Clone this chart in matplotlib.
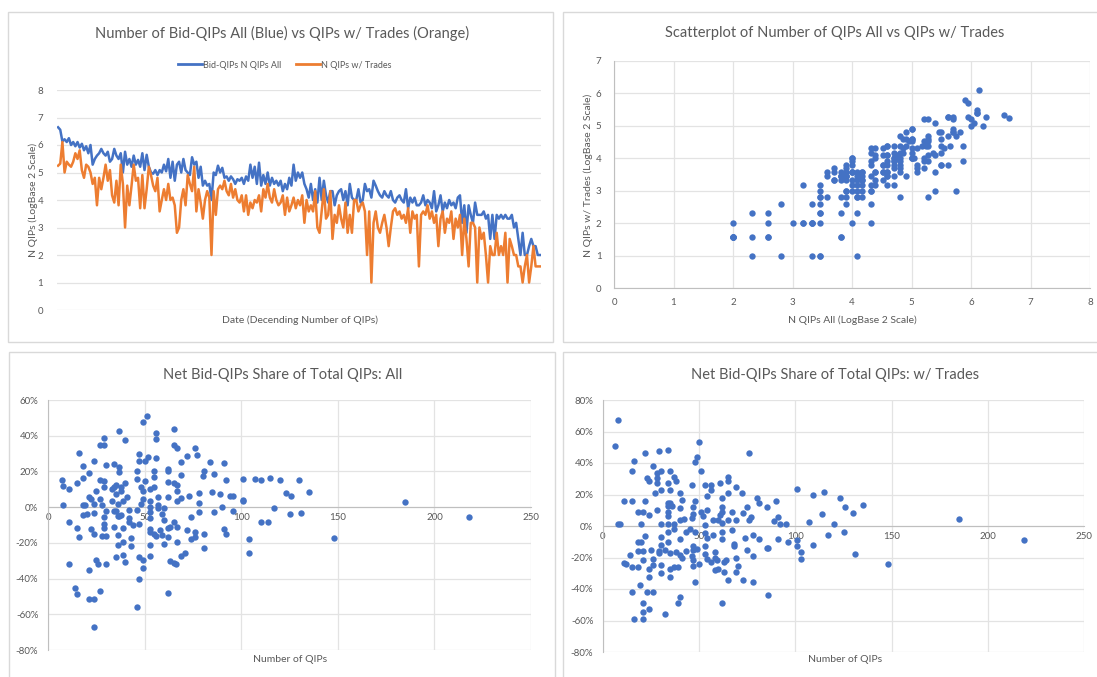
import matplotlib.pyplot as plt
import numpy as np
from matplotlib.lines import Line2D
from matplotlib.patches import Rectangle
from matplotlib.ticker import FuncFormatter

plt.rcParams["font.family"] = ["Lato", "DejaVu Sans"]

AZUL = "#4472C4"
NARANJA = "#ED7D31"
GRIS_TEXTO = "#595959"
GRIS_REJILLA = "#e3e3e3"
GRIS_EJE = "#bfbfbf"

# Número de Bid-QIPs por fecha (fechas ordenadas de mayor a menor número de QIPs)
n_qips_todos = [
    100, 94, 70, 74, 69, 76, 64, 69, 62, 69, 60, 66, 56, 62, 52, 64,
    39, 45, 49, 52, 58, 52, 49, 54, 42, 45, 58, 49, 45, 52, 32, 54, 39, 45, 37, 49, 39, 44, 37, 52, 34, 50, 37,
    32, 31, 34, 30, 34, 32, 39, 33, 45, 28, 42, 26, 39, 42, 32, 45, 34, 32, 30, 47, 39, 42, 28, 37, 23,
    26, 23, 24, 16, 32, 30, 38, 32, 36, 28, 29, 26, 29, 27, 24, 27, 26, 28, 24, 29, 26, 39, 28, 37, 24,
    41, 23, 30, 24, 32, 23, 28, 24, 26, 23, 26, 20, 24, 21, 28, 23, 39, 26, 32, 28, 32, 24, 21, 17, 24, 16,
    21, 15, 28, 16, 26, 18, 15, 20, 20, 14, 18, 20, 21, 16, 20, 14, 24, 17, 16, 16, 21, 15, 16, 24,
    20, 21, 17, 26, 23, 20, 18, 17, 20, 18, 17, 20, 16, 15, 17, 18, 16, 15, 21, 13, 17, 15, 17, 14,
    14, 15, 18, 14, 16, 15, 13, 20, 12, 14, 18, 12, 15, 13, 16, 14, 15, 13, 17, 18, 9, 14, 7, 14,
    11, 9, 15, 11, 11, 11, 12, 10, 11, 6, 11, 6, 11, 10, 11, 10, 11, 10, 10, 11,
    8, 9, 6, 4, 7, 4, 4, 5, 6, 5, 5, 4, 4,
]
n_qips_trades = [
    38, 40, 69, 32, 42, 39, 37, 42, 52, 45, 56, 34, 28, 39, 37, 32,
    24, 28, 14, 28, 21, 28, 39, 26, 34, 18, 15, 26, 14, 39, 24, 8, 23, 14, 23, 39, 26, 28, 13, 30, 13, 21, 37,
    30, 23, 20, 28, 12, 16, 21, 16, 24, 16, 17, 14, 7, 8, 16, 21, 14, 30, 24, 20, 37, 12, 21, 15, 10,
    16, 20, 17, 4, 20, 11, 21, 23, 21, 26, 20, 18, 24, 17, 21, 16, 15, 18, 12, 18, 11, 15, 13, 16, 15,
    18, 12, 21, 17, 24, 17, 15, 21, 16, 14, 15, 18, 11, 17, 12, 14, 17, 13, 16, 14, 18, 9, 16, 12, 14, 12,
    20, 8, 7, 12, 21, 10, 11, 20, 6, 11, 9, 14, 10, 8, 15, 7, 11, 7, 16, 16, 12, 14, 15, 12,
    4, 12, 2, 9, 12, 8, 7, 9, 11, 8, 5, 8, 12, 13, 11, 12, 10, 11, 9, 13, 7, 12, 10, 11,
    3, 11, 12, 11, 14, 10, 12, 9, 11, 5, 10, 12, 7, 10, 9, 12, 6, 10, 8, 11, 4, 10, 6, 3,
    9, 9, 8, 2, 8, 6, 7, 4, 2, 5, 4, 4, 7, 4, 5, 4, 7, 2, 6, 5,
    4, 4, 3, 3, 2, 3, 4, 2, 3, 5, 3, 3, 3,
]

# Participación neta de Bid-QIPs (%) frente al número total de QIPs: todas
num_qips_todos = [
    7, 8, 11, 8, 11, 11, 15, 16, 18, 18,
    15, 16, 14, 15, 18, 19, 18, 21, 21, 22,
    20, 22, 21, 21, 24, 24, 24, 24, 25, 24,
    24, 25, 26, 27, 27, 27, 27, 28, 29, 29,
    29, 29, 29, 29, 29, 30, 28, 30, 30, 30,
    33, 33, 34, 34, 34, 34, 35, 35, 35, 35,
    36, 36, 36, 36, 37, 37, 37, 38, 38, 37,
    38, 39, 39, 39, 39, 40, 40, 40, 41, 42,
    42, 42, 43, 43, 44, 46, 46, 46, 46, 47,
    47, 47, 47, 47, 48, 48, 49, 49, 49, 49,
    49, 50, 50, 51, 52, 53, 53, 53, 53, 53,
    53, 53, 53, 53, 55, 55, 55, 55, 56, 56,
    56, 56, 57, 57, 57, 58, 59, 59, 60, 60,
    60, 62, 62, 62, 62, 62, 62, 62, 63, 63,
    65, 65, 65, 65, 65, 66, 67, 67, 67, 67,
    67, 67, 69, 69, 69, 69, 71, 72, 72, 73,
    74, 74, 76, 76, 76, 77, 78, 78, 78, 80,
    81, 81, 81, 84, 85, 86, 86, 89, 90, 91,
    91, 92, 92, 94, 96, 96, 101, 101, 101, 104,
    104, 107, 110, 110, 114, 115, 117, 120, 123, 125,
    126, 130, 131, 135, 148, 185, 218,
]
share_neto_todos = [
    15.2, 11.9, 10.0, 1.1, -8.2, -32.0, 13.4, 30.5, 23.0, 16.4,
    -11.5, -16.7, -45.4, -48.7, 1.1, 1.1, -4.5, 5.6, 19.3, 4.8,
    -4.1, -12.3, -35.3, -51.3, 26.0, 1.5, -3.3, -15.2, 8.9, -51.3,
    -66.9, -29.4, -32.0, 4.5, 34.6, 15.2, -47.2, 1.1, 38.7, 11.2,
    34.6, 14.9, -9.7, -5.6, -11.9, -16.0, -16.0, -31.6, 23.8, -1.9,
    3.7, 10.0, 24.2, 11.2, -1.9, -11.2, 7.1, -1.9, -27.9, 12.6,
    -4.8, -15.6, -21.2, 1.5, 19.7, 22.3, 42.8, 11.2, -4.5, -4.8,
    8.9, 3.7, -11.5, -26.8, -19.3, 37.6, 13.4, -30.5, 5.9, -8.2,
    -1.5, -5.9, -21.9, -17.5, -10.0, -55.8, 20.4, 16.0, -1.5, -9.3,
    29.7, 26.0, -27.9, -40.5, 1.5, 11.2, 47.6, -29.7, -33.8, 8.9,
    4.8, 14.5, 26.0, 50.9, 27.9, 10.0, 3.7, 0.0, -2.6, -6.3,
    -12.3, -27.5, -21.2, -13.8, 20.4, 17.1, -14.9, 11.5, -16.4, 27.5,
    37.9, 41.3, 5.9, -0.7, 1.1, -13.0, -15.6, -4.1, -0.7, -7.1,
    -20.4, 14.1, -11.5, -16.7, 20.4, 5.6, 21.6, -48.0, -11.2, -30.1,
    -31.2, 43.5, 34.6, 13.4, -8.2, -32.0, 33.1, 12.6, 9.3, 3.7,
    -11.2, -19.3, 25.3, 5.2, 17.8, -27.5, -25.7, 28.6, -13.0, 6.3,
    -17.8, -5.6, -16.7, -13.8, 33.1, 29.4, 7.8, 2.2, -2.6, 17.5,
    20.4, -14.9, -23.0, 25.3, 8.2, 18.6, -2.6, 7.4, 0.0, 24.9,
    -12.3, 15.2, -15.2, 6.3, 6.3, -1.9, 16.0, 4.1, 3.3, -17.8,
    -25.7, 16.0, 15.2, -8.2, -8.2, 16.4, -0.7, 15.2, 7.8, -3.7,
    6.3, 15.2, -3.3, 8.6, -17.1, 3.0, -5.6,
]

# Participación neta de Bid-QIPs (%) frente al número total de QIPs: con trades
num_qips_trades = [
    6, 8, 8, 9, 11, 11, 12, 14, 15, 15,
    15, 15, 16, 16, 18, 18, 18, 18, 19, 20,
    20, 21, 21, 21, 21, 21, 21, 22, 22, 22,
    23, 23, 24, 24, 24, 24, 24, 25, 26, 26,
    26, 26, 27, 28, 28, 28, 28, 29, 29, 29,
    30, 30, 30, 30, 30, 30, 30, 32, 32, 34,
    34, 34, 34, 34, 34, 34, 34, 34, 35, 35,
    35, 35, 35, 35, 36, 37, 37, 37, 37, 38,
    38, 39, 39, 40, 40, 40, 40, 40, 40, 41,
    41, 42, 43, 43, 45, 46, 46, 46, 47, 47,
    47, 47, 47, 47, 48, 48, 48, 48, 49, 49,
    50, 50, 51, 51, 52, 53, 53, 53, 53, 53,
    54, 54, 54, 54, 56, 56, 56, 57, 57, 58,
    58, 58, 59, 60, 60, 61, 61, 62, 62, 62,
    62, 62, 62, 62, 63, 63, 64, 65, 65, 65,
    65, 65, 67, 67, 68, 68, 69, 69, 69, 69,
    70, 72, 73, 73, 74, 75, 75, 76, 76, 77,
    78, 78, 78, 80, 81, 81, 85, 85, 86, 86,
    89, 90, 91, 91, 92, 95, 96, 101, 101, 101,
    103, 103, 107, 109, 109, 114, 115, 117, 120, 123,
    125, 126, 130, 131, 135, 148, 185, 219,
]
share_neto_trades = [
    50.9, 67.5, 1.2, 1.2, 15.6, -23.5, -23.9, -18.4, 34.7, 15.6,
    -26.0, -42.2, 41.1, -58.8, 9.2, -9.9, -15.8, -26.0, -37.5, 1.2,
    -9.9, 8.8, -15.8, -21.8, -48.6, -54.5, -58.8, 46.6, 15.6, -6.5,
    -42.2, 30.5, 28.4, 7.1, -32.4, -27.3, -52.8, -15.0, -20.9, 38.1,
    -24.8, -42.2, 20.7, 10.1, 33.9, 27.5, 30.5, -15.8, -17.1, 47.5,
    34.7, 1.2, 22.8, -6.9, -24.8, -29.9, -12.0, -55.8, -15.0, 48.3,
    27.5, 14.8, 12.6, 9.2, 6.3, 1.2, -3.5, -9.9, 14.8, 34.7,
    22.8, -17.1, -27.3, -32.4, 12.6, 31.3, 1.2, -1.8, -26.0, 28.8,
    -16.3, -48.6, -26.0, -44.8, -18.4, 20.7, 11.4, 4.1, -8.2, 16.5,
    -20.5, 4.6, -3.5, -15.8, -2.2, -18.8, 26.2, 5.0, -15.4, 12.2,
    7.5, -12.4, -21.3, -25.2, 15.6, 40.7, -35.4, -3.5, 44.1, -14.5,
    53.5, -23.9, 34.7, 9.2, 6.3, -4.3, -12.4, 25.8, 0.7, -17.5,
    -20.9, 19.0, 10.1, -7.8, -22.6, 25.8, 22.8, -6.0, 4.1, -28.2,
    -20.5, -16.3, -21.8, 4.1, -27.3, 7.1, 27.5, 17.7, 12.2, 9.2,
    1.6, -3.5, -8.2, -48.6, -22.6, -29.0, -21.3, 4.1, 30.9, 28.4,
    20.7, -34.1, 8.8, -2.7, -11.6, -12.9, 24.5, -29.0, 4.1, -20.1,
    -25.6, 20.7, 8.4, -34.1, -7.8, -15.0, 11.8, 4.1, 46.2, 5.8,
    -5.6, -18.8, -35.4, 17.7, 14.3, -8.2, 11.8, -14.1, -14.1, -43.5,
    3.3, 15.6, -8.2, 5.4, 1.2, 1.2, -9.9, 23.7, -8.6, -12.9,
    -16.3, -20.9, 2.4, 19.9, -12.0, 7.5, 21.6, -6.0, 1.2, 17.7,
    -3.5, 11.8, 8.4, -17.9, 13.5, -23.9, 4.6, -8.6,
]

ANCHO, ALTO = 1097, 677
fig = plt.figure(figsize=(ANCHO / 100, ALTO / 100), dpi=100)


def caja(x0, y0, x1, y1):
    # Rectángulo en píxeles (origen arriba a la izquierda) -> fracción de figura
    return [x0 / ANCHO, 1 - y1 / ALTO, (x1 - x0) / ANCHO, (y1 - y0) / ALTO]


def texto(x, y, s, **kw):
    fig.text(x / ANCHO, 1 - y / ALTO, s, ha="center", va="center", color=GRIS_TEXTO, **kw)


def estilo_ejes(ax):
    ax.set_axisbelow(True)
    ax.tick_params(length=0, labelsize=7, colors=GRIS_TEXTO, pad=7)
    for lado in ["top", "right"]:
        ax.spines[lado].set_visible(False)


# Marcos de los cuatro gráficos
for x0, y0, x1, y1 in [(8, 12, 553, 342), (563, 12, 1100, 342),
                       (9, 352, 555, 680), (563, 352, 1100, 680)]:
    fig.patches.append(Rectangle((x0 / ANCHO, 1 - y1 / ALTO), (x1 - x0) / ANCHO, (y1 - y0) / ALTO,
                                 transform=fig.transFigure, fill=False,
                                 edgecolor="#d9d9d9", lw=1))

# Serie temporal de QIPs en escala log2
ax1 = fig.add_axes(caja(57, 90, 541, 310))
fechas = np.arange(len(n_qips_todos))
ax1.plot(fechas, np.log2(n_qips_todos), color=AZUL, lw=1.8)
ax1.plot(fechas, np.log2(n_qips_trades), color=NARANJA, lw=1.8)
ax1.set_xlim(-0.5, len(fechas) - 0.5)
ax1.set_ylim(0, 8)
ax1.set_yticks(range(0, 9))
ax1.set_xticks([])
ax1.grid(axis="y", color=GRIS_REJILLA, lw=0.9)
estilo_ejes(ax1)
ax1.spines["left"].set_visible(False)
ax1.spines["bottom"].set_visible(False)
ax1.tick_params(axis="y", pad=10)
ax1.legend(
    handles=[Line2D([], [], color=AZUL, lw=2), Line2D([], [], color=NARANJA, lw=2)],
    labels=["Bid-QIPs N QIPs All", "N QIPs w/ Trades"],
    loc="center", bbox_to_anchor=(285 / ANCHO, 1 - 65 / ALTO), bbox_transform=fig.transFigure,
    ncol=2, frameon=False, fontsize=6.5, handlelength=2.6, handletextpad=0.2,
    columnspacing=1.6, labelcolor=GRIS_TEXTO,
)
texto(282, 33, "Number of Bid-QIPs All (Blue) vs QIPs w/ Trades (Orange)", fontsize=10.5)
texto(300, 320, "Date (Decending Number of QIPs)", fontsize=7.5)
texto(33, 200, "N QIPs (LogBase 2 Scale)", fontsize=7.5, rotation=90)

# Dispersión: todas vs con trades
ax2 = fig.add_axes(caja(614, 61, 1090, 288))
ax2.scatter(np.log2(n_qips_todos), np.log2(n_qips_trades), s=21, color=AZUL,
            linewidths=0, zorder=3)
ax2.set_xlim(0, 8)
ax2.set_ylim(0, 7)
ax2.set_xticks(range(0, 9))
ax2.set_yticks(range(0, 8))
ax2.grid(color=GRIS_REJILLA, lw=0.9)
estilo_ejes(ax2)
ax2.tick_params(axis="y", pad=9)
for lado in ["left", "bottom"]:
    ax2.spines[lado].set_color(GRIS_EJE)
texto(835, 33, "Scatterplot of Number of QIPs All vs QIPs w/ Trades", fontsize=10.5)
texto(852, 320, "N QIPs All (LogBase 2 Scale)", fontsize=7.5)
texto(588, 175, "N QIPs w/ Trades (LogBase 2 Scale)", fontsize=7.5, rotation=90)

porcentaje = FuncFormatter(lambda v, pos: f"{v:.0f}%")


def grafica_share(caja_px, xs, ys, ymin, ymax, titulo, centro_titulo, centro_xlabel):
    ax = fig.add_axes(caja(*caja_px))
    ax.scatter(xs, ys, s=21, color=AZUL, linewidths=0, zorder=3)
    ax.set_xlim(0, 250)
    ax.set_ylim(ymin, ymax)
    ax.set_xticks(range(0, 251, 50))
    ax.set_yticks(range(ymin, ymax + 1, 20))
    ax.yaxis.set_major_formatter(porcentaje)
    ax.grid(color=GRIS_REJILLA, lw=0.9)
    estilo_ejes(ax)
    ax.tick_params(axis="x", pad=4)
    ax.spines["bottom"].set_position(("data", 0))
    for lado in ["left", "bottom"]:
        ax.spines[lado].set_color(GRIS_EJE)
    texto(*centro_titulo, titulo, fontsize=10.5)
    texto(*centro_xlabel, "Number of QIPs", fontsize=7.5)
    return ax


grafica_share((48, 400, 531, 650), num_qips_todos, share_neto_todos, -80, 60,
              "Net Bid-QIPs Share of Total QIPs: All", (283, 375), (290, 660))
grafica_share((603, 400, 1084, 652), num_qips_trades, share_neto_trades, -80, 80,
              "Net Bid-QIPs Share of Total QIPs: w/ Trades", (835, 375), (845, 660))

fig.savefig("out.png", dpi=100, facecolor="white")
